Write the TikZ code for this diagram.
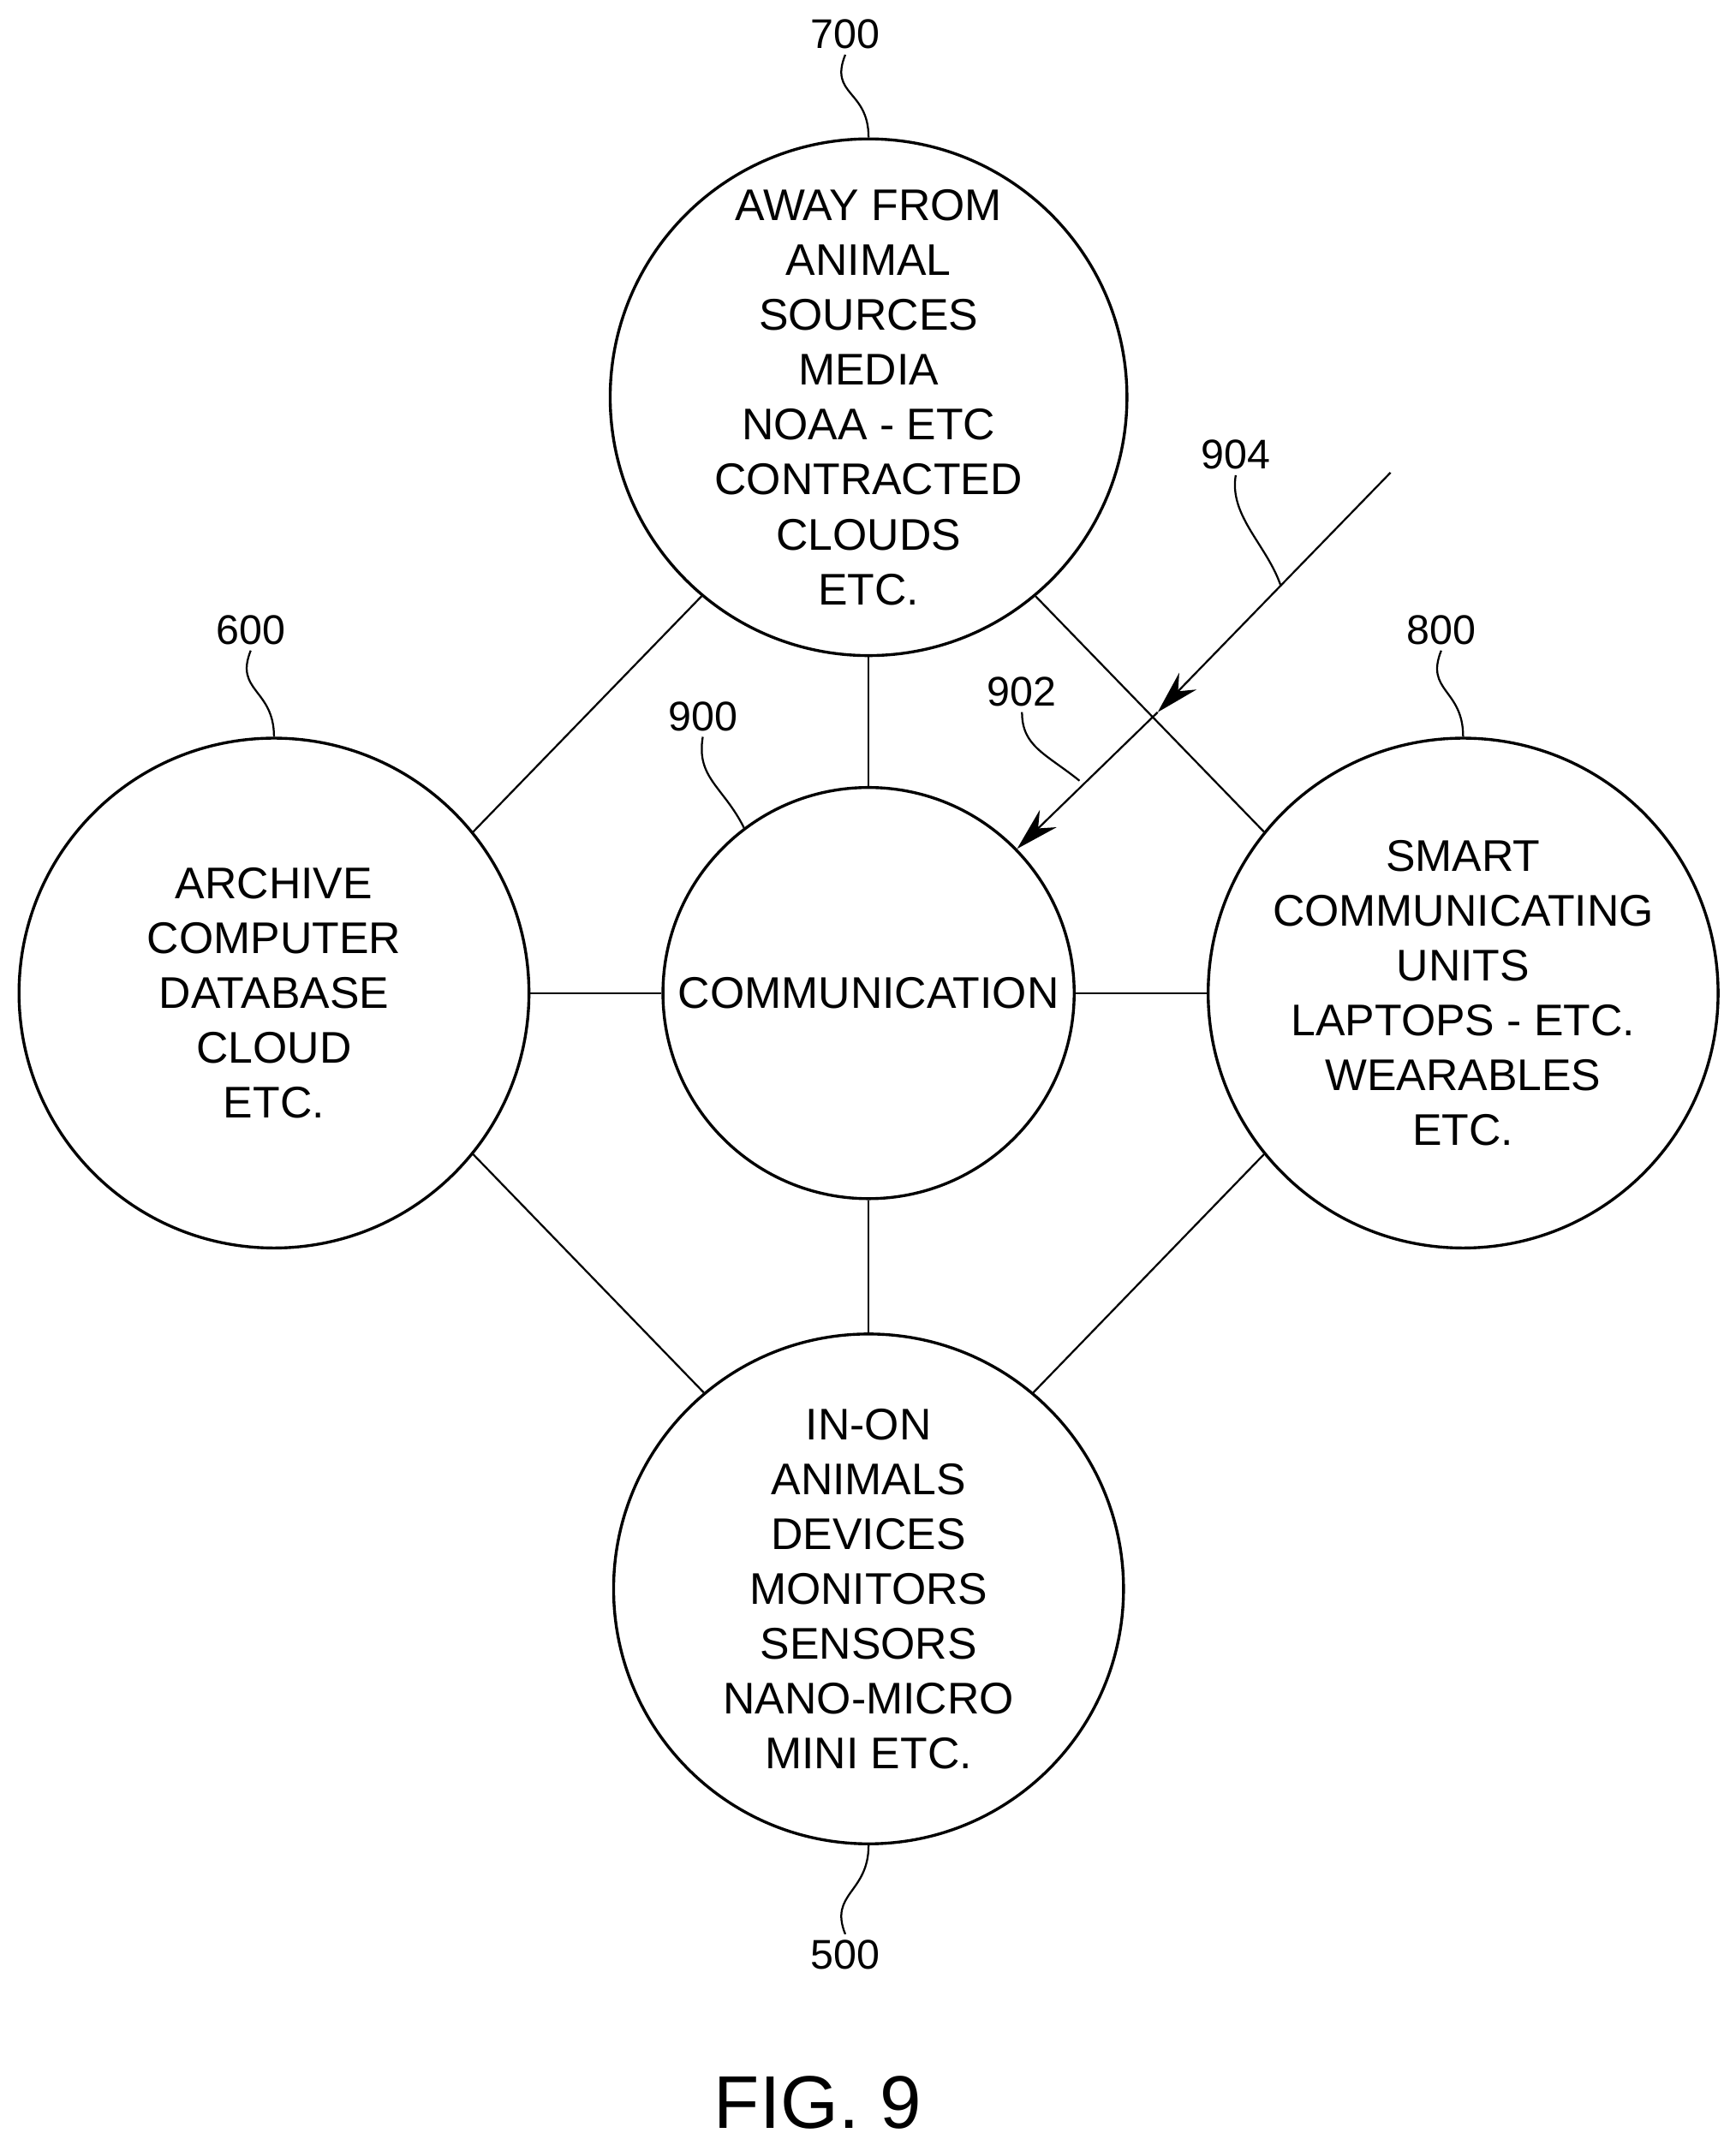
\documentclass[tikz,border=0pt]{standalone}
\usepackage{fontspec}
\setmainfont{Liberation Sans}
\usetikzlibrary{positioning,calc,arrows.meta}
\tikzset{
  unit/.style={circle,draw,semithick,inner sep=0pt,minimum size=3.72cm,align=center,font=\fontsize{9.2}{11.4}\selectfont},
  hub/.style={unit,minimum size=3.0cm},
  ref/.style={font=\fontsize{8.6}{10}\selectfont,inner sep=1pt},
  leader/.style={thin},
}
\begin{document}
\begin{tikzpicture}[x=0.01cm,y=-0.01cm]
	\useasboundingbox (0,0) rectangle (1267,1566);
	\begin{scope}[every node/.style={unit}]
		\node (away) at (634,290) {AWAY FROM\\ANIMAL\\SOURCES\\MEDIA\\NOAA - ETC\\CONTRACTED\\CLOUDS\\ETC.};
		\node (archive) at (200,725) {ARCHIVE\\COMPUTER\\DATABASE\\CLOUD\\ETC.};
		\node (smart) at (1068,725) {SMART\\COMMUNICATING\\UNITS\\LAPTOPS - ETC.\\WEARABLES\\ETC.};
		\node (devices) at (634,1160) {IN-ON\\ANIMALS\\DEVICES\\MONITORS\\SENSORS\\NANO-MICRO\\MINI ETC.};
		\node [hub] (comm) at (634,725) {COMMUNICATION};
	\end{scope}

	\begin{scope}[every path/.style={draw,thin}]
		\path (away) -- (comm);
		\path (archive) -- (comm);
		\path (smart) -- (comm);
		\path (devices) -- (comm);
		\path (away.230) -- (archive.39);
		\path (away.310) -- (smart.141);
		\path (devices.130) -- (archive.-39);
		\path (devices.50) -- (smart.219);
	\end{scope}

	% incoming link
	\coordinate (src) at (1015,345);
	\coordinate (mid) at (845,520);
	\draw [-{Stealth[length=9pt,width=5pt]}] (src) -- (mid);
	\draw [-{Stealth[length=9pt,width=5pt]}] (mid) -- (comm);

	% reference numerals
	\begin{scope}[every node/.style={ref}]
		\node (l700) at (617,25) {700};
		\node (l600) at (183,460) {600};
		\node (l800) at (1052,460) {800};
		\node (l900) at (513,523) {900};
		\node (l902) at (746,505) {902};
		\node (l904) at (902,332) {904};
		\node (l500) at (617,1427) {500};
	\end{scope}
	\coordinate (on902) at (788,570);
	\coordinate (on904) at (935,428);
	\draw [leader] (l700.south) .. controls +(-12,30) and +(0,-35) .. (away.north);
	\draw [leader] (l600.south) .. controls +(-12,30) and +(0,-35) .. (archive.north);
	\draw [leader] (l800.south) .. controls +(-12,30) and +(0,-35) .. (smart.north);
	\draw [leader] (l900.south) .. controls +(-5,30) and +(-15,-30) .. (comm.127);
	\draw [leader] (l902.south) .. controls +(0,25) and +(-25,-20) .. (on902);
	\draw [leader] (l904.south) .. controls +(-5,30) and +(-10,-30) .. (on904);
	\draw [leader] (devices.south) .. controls +(0,35) and +(-12,-30) .. (l500.north);

	\node [font=\fontsize{15.5}{18}\selectfont] (fig) at (597,1535) {FIG. 9};
\end{tikzpicture}
\end{document}
